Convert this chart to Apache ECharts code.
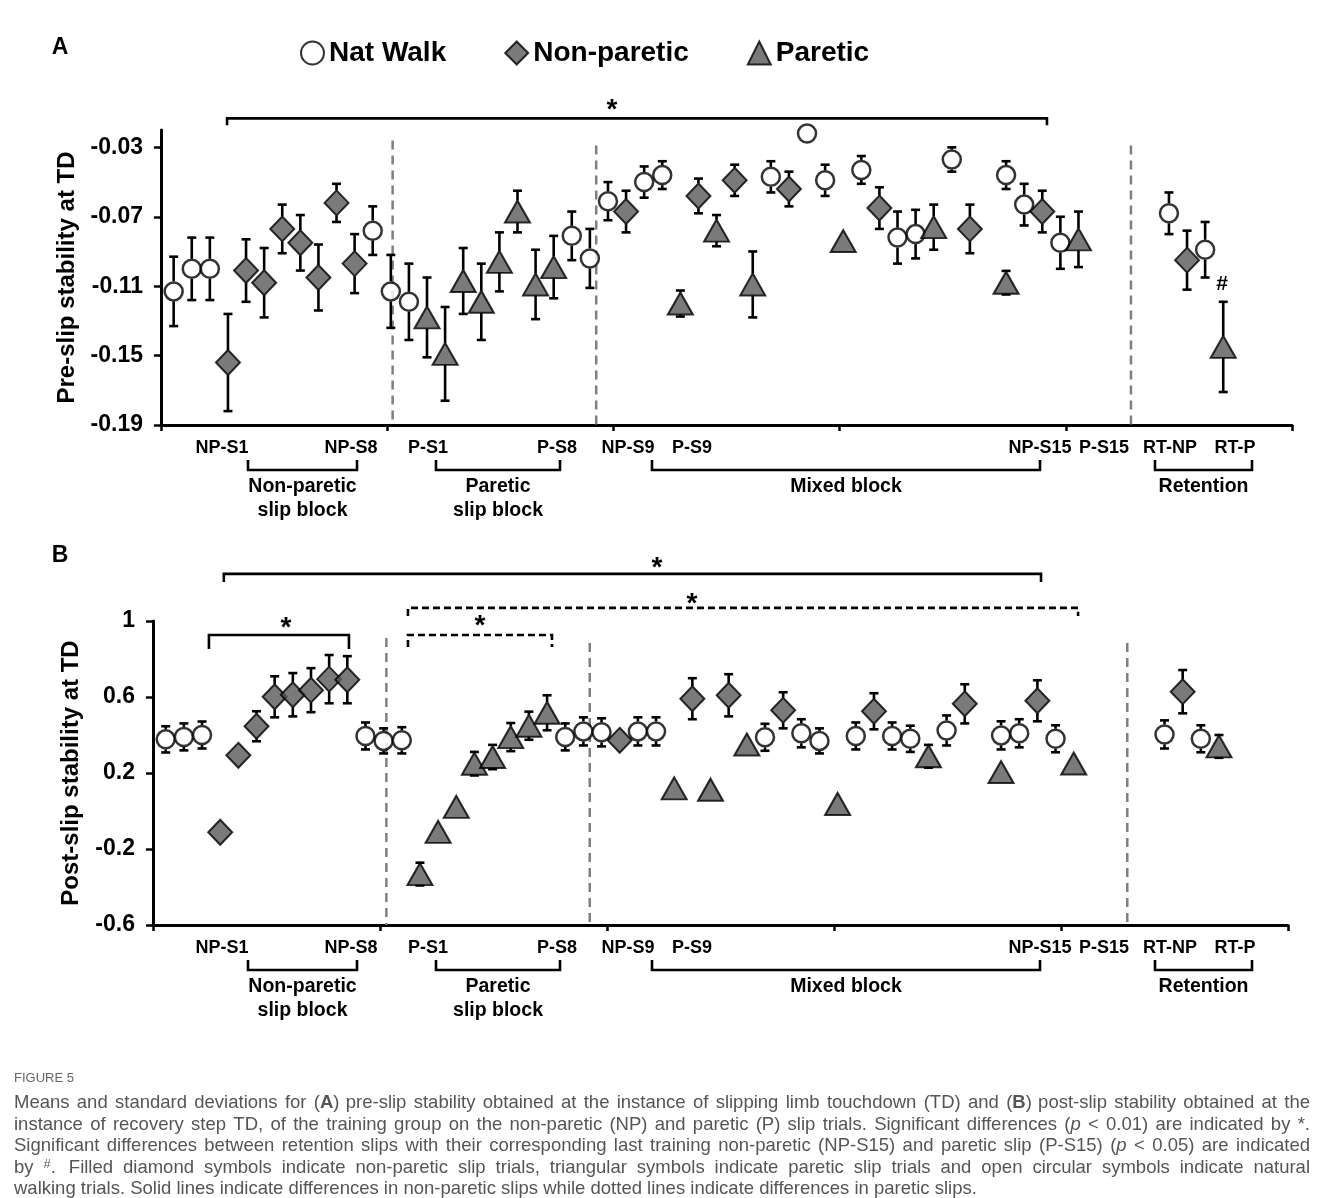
<!DOCTYPE html>
<html>
<head>
<meta charset="utf-8">
<title>Figure 5</title>
<script src="https://cdn.jsdelivr.net/npm/echarts@6/dist/echarts.min.js"></script>
<style>
  html, body { margin: 0; padding: 0; background: #fff; }
  #main { width: 1320px; height: 1198px; }
</style>
</head>
<body>
<div id="main"></div>
<script>
// trial slots along the x axis (0 = first trial drawn)
var natTrials = [0, 1, 2, 11, 12, 13, 22, 23, 24, 26, 27, 33, 35, 36, 38, 40, 41, 43, 46, 47, 49, 55, 57]
var npTrials = [3, 4, 5, 6, 7, 8, 9, 10, 25, 29, 31, 34, 39, 44, 48, 56]
var pTrials = [14, 15, 16, 17, 18, 19, 20, 21, 28, 30, 32, 37, 42, 46, 50, 58]

// panel A: pre-slip stability (mean, sd)
var natPre = [-0.113, -0.100, -0.100, -0.078, -0.113, -0.119, -0.081, -0.094, -0.061, -0.050, -0.046, -0.047, -0.022, -0.049, -0.043, -0.082, -0.080, -0.037, -0.046, -0.063, -0.085, -0.068, -0.089]
var natPreSd = [0.020, 0.018, 0.018, 0.014, 0.021, 0.022, 0.014, 0.017, 0.011, 0.009, 0.008, 0.009, 0, 0.009, 0.008, 0.015, 0.014, 0.007, 0.008, 0.012, 0.015, 0.012, 0.016]
var npPre = [-0.154, -0.101, -0.108, -0.077, -0.085, -0.105, -0.062, -0.097, -0.067, -0.058, -0.049, -0.054, -0.065, -0.077, -0.067, -0.095]
var npPreSd = [0.028, 0.018, 0.020, 0.014, 0.016, 0.019, 0.011, 0.017, 0.012, 0.010, 0.009, 0.010, 0.012, 0.014, 0.012, 0.017]
var pPre = [-0.128, -0.149, -0.107, -0.119, -0.096, -0.067, -0.109, -0.099, -0.120, -0.078, -0.109, -0.084, -0.076, -0.108, -0.083, -0.145]
var pPreSd = [0.023, 0.027, 0.019, 0.022, 0.017, 0.012, 0.020, 0.018, 0.0075, 0.009, 0.019, 0, 0.013, 0.0068, 0.016, 0.026]

// panel B: post-slip stability (mean, sd)
var natPost = [0.377, 0.390, 0.400, 0.395, 0.369, 0.372, 0.390, 0.419, 0.414, 0.419, 0.419, 0.388, 0.409, 0.369, 0.395, 0.395, 0.380, 0.424, 0.398, 0.409, 0.380, 0.403, 0.380]
var natPostSd = [0.069, 0.071, 0.071, 0.071, 0.066, 0.069, 0.071, 0.074, 0.074, 0.074, 0.074, 0.071, 0.074, 0.066, 0.071, 0.071, 0.069, 0.079, 0.074, 0.074, 0.071, 0.074, 0.071]
var npPost = [-0.112, 0.293, 0.446, 0.601, 0.612, 0.636, 0.694, 0.691, 0.372, 0.591, 0.609, 0.530, 0.525, 0.564, 0.580, 0.628]
var npPostSd = [0, 0.020, 0.079, 0.108, 0.114, 0.116, 0.127, 0.124, 0.050, 0.108, 0.111, 0.095, 0.095, 0.103, 0.108, 0.114]
var pPost = [-0.332, -0.110, 0.022, 0.249, 0.284, 0.389, 0.449, 0.517, 0.119, 0.112, 0.350, 0.037, 0.288, 0.205, 0.250, 0.340]
var pPostSd = [0.060, 0, 0, 0.062, 0.064, 0.074, 0.074, 0.092, 0, 0, 0, 0, 0.060, 0, 0, 0.060]

var yTicksA = [-0.19, -0.15, -0.11, -0.07, -0.03]
var yTicksB = [-0.6, -0.2, 0.2, 0.6, 1]
var xLabels = ['NP-S1', 'NP-S8', 'P-S1', 'P-S8', 'NP-S9', 'P-S9', 'NP-S15', 'P-S15', 'RT-NP', 'RT-P']
var blockNames = [['Non-paretic', 'slip block'], ['Paretic', 'slip block'], ['Mixed block'], ['Retention']]

var caption = [
  'Means and standard deviations for ({b|A}) pre-slip stability obtained at the instance of slipping limb touchdown (TD) and ({b|B}) post-slip stability obtained at the',
  'instance of recovery step TD, of the training group on the non-paretic (NP) and paretic (P) slip trials. Significant differences ({i|p} < 0.01) are indicated by *.',
  'Significant differences between retention slips with their corresponding last training non-paretic (NP-S15) and paretic slip (P-S15) ({i|p} < 0.05) are indicated',
  'by {sup|#}. Filled diamond symbols indicate non-paretic slip trials, triangular symbols indicate paretic slip trials and open circular symbols indicate natural',
  'walking trials. Solid lines indicate differences in non-paretic slips while dotted lines indicate differences in paretic slips.'
]

var FONT = "'Liberation Sans', Arial, sans-serif"
var names = ['Nat Walk', 'Non-paretic', 'Paretic']
var symStyle = [
  { symbol: 'circle', symbolSize: 18, itemStyle: { color: '#fff', borderColor: '#000', borderWidth: 2.5 } },
  { symbol: 'diamond', symbolSize: [24, 25], itemStyle: { color: '#595959', borderColor: '#000', borderWidth: 2 } },
  { symbol: 'triangle', symbolSize: [25, 22], itemStyle: { color: '#595959', borderColor: '#000', borderWidth: 2 } }
]
// half height of each marker, error bar stems stop at the marker edge
var markHalf = [10, 12.5, 11]

function markSeries(k, gi, trials, means) {
  return Object.assign({
    name: names[k], type: 'scatter', xAxisIndex: gi, yAxisIndex: gi, zlevel: 1, z: 5,
    emphasis: { disabled: true },
    data: trials.map(function (t, i) { return [t, means[i]] })
  }, symStyle[k])
}

function errSeries(k, gi, trials, means, sds) {
  var hh = markHalf[k]
  return {
    type: 'custom', xAxisIndex: gi, yAxisIndex: gi, z: 2, silent: true,
    data: trials.map(function (t, i) { return [t, means[i], sds[i]] }),
    renderItem: function (params, api) {
      var x = api.value(0), m = api.value(1), s = api.value(2)
      if (!s) return null
      var mid = api.coord([x, m]), hi = api.coord([x, m + s]), lo = api.coord([x, m - s])
      var c = 4.5
      var st = { stroke: '#000', lineWidth: 2.6 }
      var kids = []
      if (mid[1] - hi[1] > hh - 1) {
        kids.push({ type: 'line', shape: { x1: hi[0], y1: hi[1], x2: hi[0], y2: mid[1] - hh }, style: st })
        kids.push({ type: 'line', shape: { x1: hi[0] - c, y1: hi[1], x2: hi[0] + c, y2: hi[1] }, style: st })
      }
      if (lo[1] - mid[1] > hh - 1) {
        kids.push({ type: 'line', shape: { x1: lo[0], y1: lo[1], x2: lo[0], y2: mid[1] + hh }, style: st })
        kids.push({ type: 'line', shape: { x1: lo[0] - c, y1: lo[1], x2: lo[0] + c, y2: lo[1] }, style: st })
      }
      return { type: 'group', children: kids }
    }
  }
}

// vertical dashed separators between blocks: [x, top, bottom]
function sepSeries(gi, seps) {
  return {
    type: 'custom', xAxisIndex: gi, yAxisIndex: gi, z: 1, silent: true,
    data: seps,
    renderItem: function (params, api) {
      var a = api.coord([api.value(0), api.value(1)]), b = api.coord([api.value(0), api.value(2)])
      return { type: 'line', shape: { x1: a[0], y1: a[1], x2: b[0], y2: b[1] },
        style: { stroke: '#7f7f7f', lineWidth: 2.5, lineDash: [9, 6] } }
    }
  }
}

function xAxis(gi) {
  return {
    gridIndex: gi, type: 'value', min: -0.7, max: 61.8, interval: 12.5,
    axisLine: { onZero: false, lineStyle: { color: '#000', width: 3 } },
    axisTick: { show: true, inside: false, length: 6, lineStyle: { color: '#000', width: 2.5 } },
    axisLabel: { show: false }, splitLine: { show: false }
  }
}

function yAxis(gi, min, max, ticks, name, gap, fmt) {
  return {
    gridIndex: gi, type: 'value', min: min, max: max,
    name: name, nameLocation: 'middle', nameRotate: 90, nameGap: gap,
    nameTextStyle: { fontFamily: FONT, fontWeight: 'bold', fontSize: 24, color: '#000' },
    axisLine: { show: true, onZero: false, lineStyle: { color: '#000', width: 3 } },
    axisTick: { show: true, length: 7, customValues: ticks, lineStyle: { color: '#000', width: 2.5 } },
    axisLabel: { customValues: ticks, margin: 18, fontFamily: FONT, fontWeight: 'bold', fontSize: 23, color: '#000', formatter: fmt },
    splitLine: { show: false }
  }
}

var option = {
  backgroundColor: '#fff',
  animation: false,
  legend: {
    data: names, left: 295, top: 34, itemWidth: 23, itemHeight: 23, itemGap: 58,
    textStyle: { fontFamily: FONT, fontWeight: 'bold', fontSize: 28, color: '#000' }
  },
  grid: [
    { left: 161, top: 130, width: 1131, height: 295 },
    { left: 153, top: 621, width: 1135, height: 304 }
  ],
  xAxis: [xAxis(0), xAxis(1)],
  yAxis: [
    yAxis(0, -0.19, -0.02, yTicksA, 'Pre-slip stability at TD', 80, function (v) { return v.toFixed(2) }),
    yAxis(1, -0.6, 1, yTicksB, 'Post-slip stability at TD', 70, function (v) { return String(+v.toFixed(1)) })
  ],
  series: [
    sepSeries(0, [[12.1, -0.026, -0.19], [23.35, -0.029, -0.19], [52.9, -0.029, -0.19]]),
    sepSeries(1, [[12.15, 0.91, -0.6], [23.35, 0.884, -0.6], [52.95, 0.884, -0.6]]),
    errSeries(0, 0, natTrials, natPre, natPreSd),
    errSeries(1, 0, npTrials, npPre, npPreSd),
    errSeries(2, 0, pTrials, pPre, pPreSd),
    errSeries(0, 1, natTrials, natPost, natPostSd),
    errSeries(1, 1, npTrials, npPost, npPostSd),
    errSeries(2, 1, pTrials, pPost, pPostSd),
    markSeries(0, 0, natTrials, natPre),
    markSeries(1, 0, npTrials, npPre),
    markSeries(2, 0, pTrials, pPre),
    markSeries(0, 1, natTrials, natPost),
    markSeries(1, 1, npTrials, npPost),
    markSeries(2, 1, pTrials, pPost)
  ]
}

var chart = echarts.init(document.getElementById('main'))
chart.setOption(option)

// ---- annotations (brackets, asterisks, block labels, caption) ----
var els = []
function px(gi, x, y) { return chart.convertToPixel({ gridIndex: gi }, [x, y]) }
function txt(x, y, s, size, extra) {
  var st = Object.assign({ text: s, x: x, y: y, fill: '#000', fontFamily: FONT, fontWeight: 'bold', fontSize: size,
    textAlign: 'center', textVerticalAlign: 'middle', align: 'center', verticalAlign: 'middle' }, extra || {})
  els.push({ type: 'text', silent: true, style: st })
}
function poly(pts, dash) {
  els.push({ type: 'polyline', silent: true, shape: { points: pts },
    style: { stroke: '#000', lineWidth: 2.6, fill: null, lineDash: dash ? [7, 4] : null } })
}

// significance brackets: [grid, x0, x1, y, drop(px), dashed]
var sig = [
  [0, 2.95, 48.26, -0.0133, 7, false],
  [1, 3.2, 48.2, 1.248, 8, false],
  [1, 13.34, 50.24, 1.069, 8, true],
  [1, 2.38, 10.09, 0.926, 14, false],
  [1, 13.34, 21.27, 0.926, 12, true]
]
sig.forEach(function (b) {
  var a = px(b[0], b[1], b[3]), c = px(b[0], b[2], b[3])
  poly([[a[0], a[1] + b[4]], [a[0], a[1]], [c[0], c[1]], [c[0], c[1] + b[4]]], b[5])
})
// asterisks: [grid, x, y]
var stars = [[0, 24.22, -0.0052], [1, 27.05, 1.311], [1, 28.98, 1.121], [1, 6.62, 0.995], [1, 17.31, 1.005]]
stars.forEach(function (s) {
  var p = px(s[0], s[1], s[2])
  txt(p[0], p[1] + 6, '*', 28)
})
var hp = px(0, 57.93, -0.109)
txt(hp[0], hp[1], '#', 21)

// panel letters
txt(60, 48, 'A', 23)
txt(60, 556, 'B', 23)

// trial labels and block brackets under each x axis
var labelX = [222, 351, 428, 557, 628, 692, 1040, 1104, 1170, 1235]
var blockX = [[248, 357], [436, 560], [652, 1040], [1155, 1252]]
;[0, 1].forEach(function (gi) {
  var base = px(gi, 0, gi === 0 ? -0.19 : -0.6)[1]
  xLabels.forEach(function (l, i) { txt(labelX[i], base + 23, l, 18) })
  blockX.forEach(function (b, i) {
    var y = base + 45
    poly([[b[0], y - 10], [b[0], y], [b[1], y], [b[1], y - 10]], false)
    blockNames[i].forEach(function (n, j) { txt((b[0] + b[1]) / 2, base + 62 + j * 24, n, 19.5) })
  })
})

// caption, justified line by line
var capFamily = "'Liberation Sans Narrow', 'Liberation Sans', Arial, sans-serif"
var ctx = document.createElement('canvas').getContext('2d')
function plain(s) { return s.replace(/\{\w+\|([^}]*)\}/g, '$1') }
function measure(s, size) { ctx.font = size + 'px ' + capFamily; return ctx.measureText(plain(s)).width }
var capL = 14, capR = 1310
var capSize = 14
while (capSize < 20 && measure(caption[0], capSize + 0.5) < 1250) capSize += 0.5
var rich = {
  b: { fontWeight: 'bold', fontSize: capSize, fontFamily: capFamily, fill: '#555' },
  i: { fontStyle: 'italic', fontSize: capSize, fontFamily: capFamily, fill: '#555' },
  sup: { fontSize: capSize * 0.7, fontFamily: capFamily, fill: '#555', verticalAlign: 'top', padding: [0, 0, 6, 0] }
}
txt(capL, 1078, 'FIGURE 5', 13, { textAlign: 'left', align: 'left', fontWeight: 'normal', fill: '#666', fontFamily: capFamily })
caption.forEach(function (line, li) {
  var y = 1103 + li * 21.5
  var words = line.split(' ')
  var w = words.map(function (s) { return measure(s, capSize) })
  var total = w.reduce(function (a, b) { return a + b }, 0)
  var gap = li < caption.length - 1 ? (capR - capL - total) / (words.length - 1) : measure(' ', capSize)
  var x = capL
  words.forEach(function (s, k) {
    txt(x, y, s, capSize, { textAlign: 'left', align: 'left', fontWeight: 'normal', fill: '#555', fontFamily: capFamily, rich: rich })
    x += w[k] + gap
  })
})

chart.setOption({ graphic: { elements: els } })
</script>
</body>
</html>
